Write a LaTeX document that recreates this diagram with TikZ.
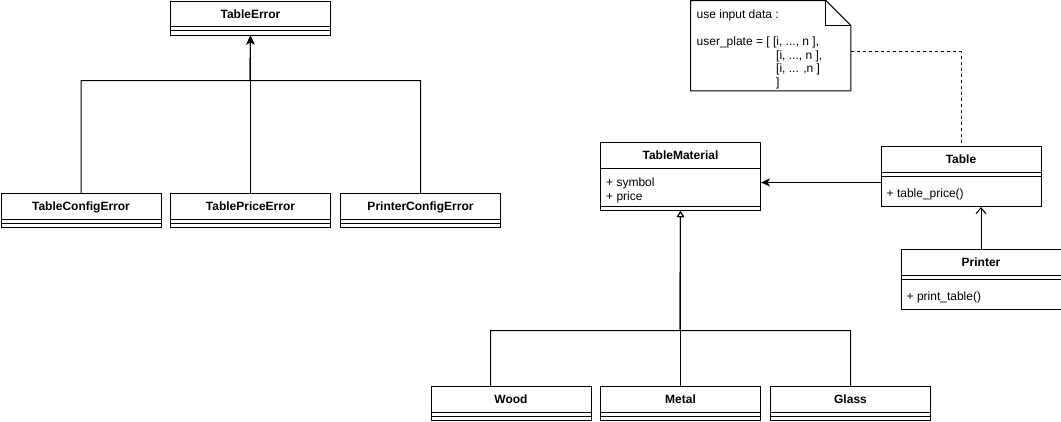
\documentclass[tikz,border=0pt]{standalone}
\usepackage{fontspec}
\setmainfont{Liberation Sans}
\usetikzlibrary{arrows.meta}
\tikzset{
  classbox/.style={draw, line width=1pt, minimum width=160pt, inner sep=0pt, anchor=north west},
  titletext/.style={font=\fontsize{12}{14}\selectfont\bfseries, anchor=base, inner sep=0pt},
  membertext/.style={font=\fontsize{12}{14}\selectfont, anchor=base west, inner sep=0pt},
  notetext/.style={font=\fontsize{12}{13.6}\selectfont, align=left, anchor=north west, inner sep=0pt},
  conn/.style={line width=1pt},
  filledtip/.style={-{Stealth[length=9pt, width=8pt, inset=2.5pt]}},
  hollowtip/.style={-{Triangle[length=6pt, width=7pt, fill=white]}},
  opentip/.style={-{Straight Barb[length=6pt, width=10pt]}},
  dashedconn/.style={line width=1pt, dash pattern=on 3pt off 3pt},
}
\newcommand{\umlclass}[6]{% name, left, top, title, height, separator offset
  \node[classbox, minimum height=#5pt] (#1) at (#2,#3) {};
  \node[titletext] (#1-title) at ([yshift=-17.5pt]#1.north) {#4};
  \draw[line width=1pt] ([yshift=-26pt]#1.north west) -- ([yshift=-26pt]#1.north east);
  \draw[line width=1pt] ([yshift=-#6pt]#1.north west) -- ([yshift=-#6pt]#1.north east);
}
\begin{document}
\begin{tikzpicture}[x=1pt, y=-1pt]
\useasboundingbox[fill=white] (0,0) rectangle (1061,421);

% error hierarchy
\umlclass{te}{170}{0.5}{TableError}{34}{30}
\umlclass{tce}{0.5}{193}{TableConfigError}{34}{30}
\umlclass{tpe}{170}{193}{TablePriceError}{34}{30}
\umlclass{pce}{340}{193}{PrinterConfigError}{34}{30}
\coordinate (errjoin) at (250,80.5);
\draw[conn, filledtip] (tce.north) |- (errjoin) -- (te.south);
\draw[conn, filledtip] (pce.north) |- (errjoin) -- (te.south);
\draw[conn, filledtip] (tpe.north) -- (te.south);

% material hierarchy
\umlclass{tm}{600}{142}{TableMaterial}{68}{64}
\node[membertext] (tm-a1) at ([xshift=6pt, yshift=-44pt]tm.north west) {+ symbol};
\node[membertext] (tm-a2) at ([xshift=6pt, yshift=-58pt]tm.north west) {+ price};

\umlclass{wood}{430.5}{386}{Wood}{34}{30}
\umlclass{metal}{600}{386}{Metal}{34}{30}
\umlclass{glass}{770}{386}{Glass}{34}{30}
\coordinate (matjoin) at (680,330.5);
\draw[conn, hollowtip] ([xshift=-20.5pt]wood.north) |- (matjoin) -- (tm.south);
\draw[conn, hollowtip] (glass.north) |- (matjoin) -- (tm.south);
\draw[conn, hollowtip] (metal.north) -- (tm.south);

% table and printer
\umlclass{tbl}{880.5}{146}{Table}{60}{30}
\node[membertext] (tbl-m1) at ([xshift=6pt, yshift=-51pt]tbl.north west) {+ table\_price()};
\umlclass{prn}{900.5}{249}{Printer}{60}{30}
\node[membertext] (prn-m1) at ([xshift=6pt, yshift=-51pt]prn.north west) {+ print\_table()};

\draw[conn, filledtip] ([yshift=-6pt]tbl.west) -- ([yshift=-6pt]tm.east);
\draw[conn, opentip] (prn.north) -- (prn.north |- tbl.south);

% note
\node[minimum width=160pt, minimum height=90pt, inner sep=0pt, anchor=north west] (note) at (690.5,0.5) {};
\draw[line width=1pt, line join=miter] (note.north west) -- ([xshift=-25pt]note.north east)
  -- ([yshift=-25pt]note.north east) -- (note.south east) -- (note.south west) -- cycle;
\draw[line width=1pt] ([xshift=-25pt]note.north east) -- ([xshift=-25pt, yshift=-25pt]note.north east)
  -- ([yshift=-25pt]note.north east);
\node[notetext] (notetxt) at (696.5,9.5) {use input data :\\
\mbox{}\\
user\_plate = [ [i, ..., n ],\\
\hspace*{79.5pt}[i, ..., n ],\\
\hspace*{79.5pt}[i, ... ,n ]\\
\hspace*{79.5pt}]};
\draw[dashedconn] ([yshift=-6pt]note.east) -| (tbl.north);
\end{tikzpicture}
\end{document}
